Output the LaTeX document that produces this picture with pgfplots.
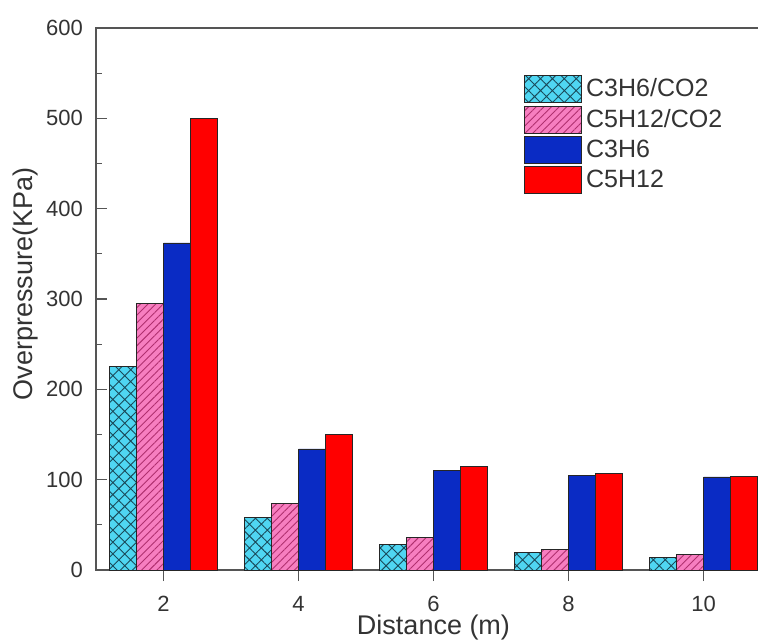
\documentclass[border=0pt]{standalone}
\usepackage{pgfplots}
\pgfplotsset{compat=1.18}
\usetikzlibrary{patterns.meta}
\usepackage{fontspec}
\setmainfont{Liberation Sans}
\definecolor{cyanfill}{HTML}{4FD6F2}
\definecolor{cyanline}{HTML}{1A4A5A}
\definecolor{pinkfill}{HTML}{F77EC0}
\definecolor{pinkline}{HTML}{B0306F}
\definecolor{bluefill}{HTML}{0A2BC4}
\definecolor{redfill}{HTML}{FF0000}
\definecolor{axgray}{HTML}{555555}
\definecolor{txtgray}{HTML}{333333}
\pgfplotsset{
  swatch/.style={legend image code/.code={\draw[##1, bar shift=0pt] (0pt,-6.7pt) rectangle (28.5pt,6.7pt);}}
}
\begin{document}
\begin{tikzpicture}
\useasboundingbox (-48pt,-36.5pt) rectangle (331pt,285pt);
\clip (-48pt,-36.5pt) rectangle (331pt,285pt);
\begin{axis}[
  at={(0,0)}, anchor=south west,
  scale only axis, width=337.5pt, height=271pt,
  xmin=1, xmax=11, ymin=0, ymax=600,
  ybar=0pt, bar width=0.4,
  xtick={2,4,6,8,10},
  ytick={0,100,...,600},
  minor y tick num=1,
  xtick pos=bottom, ytick pos=left,
  xtick align=outside, ytick align=inside,
  major tick length=5.5pt, minor tick length=3pt,
  axis line style={axgray, line width=0.6pt},
  tick style={axgray, line width=0.6pt},
  /pgf/number format/assume math mode=true,
  ticklabel style={font=\fontsize{11}{13}\selectfont, text=txtgray},
  xticklabel style={yshift=-4pt},
  yticklabel style={xshift=-3pt},
  xlabel={Distance (m)},
  ylabel={Overpressure(KPa)},
  label style={font=\fontsize{13.5}{16}\selectfont, text=txtgray},
  xlabel style={at={(axis description cs:0.5,-0.106)}, anchor=center},
  ylabel style={at={(axis description cs:-0.105,0.528)}, anchor=center},
  legend style={at={(rel axis cs:0.634,0.915)}, anchor=north west, draw=none, fill=none,
    font=\fontsize{12.5}{15}\selectfont, text=txtgray, inner sep=0pt, row sep=0.8pt},
  legend cell align=left,
]
\addplot[fill=cyanfill, draw=black!85, line width=0.4pt, bar shift=-0.6,
  postaction={pattern={Hatch[angle=45,distance=4.2pt,line width=0.45pt]}, pattern color=cyanline}, swatch]
  coordinates {(2,225) (4,58) (6,28) (8,19) (10,14)};
\addlegendentry{C3H6/CO2}
\addplot[fill=pinkfill, draw=black!85, line width=0.4pt, bar shift=-0.2,
  postaction={pattern={Lines[angle=45,distance=2.7pt,line width=0.45pt]}, pattern color=pinkline}, swatch]
  coordinates {(2,295) (4,74) (6,36.5) (8,23) (10,17)};
\addlegendentry{C5H12/CO2}
\addplot[fill=bluefill, draw=black!85, line width=0.4pt, bar shift=0.2, swatch]
  coordinates {(2,362) (4,134) (6,110) (8,105) (10,103)};
\addlegendentry{C3H6}
\addplot[fill=redfill, draw=black!85, line width=0.4pt, bar shift=0.6, swatch]
  coordinates {(2,500) (4,150) (6,115) (8,107) (10,104)};
\addlegendentry{C5H12}
\end{axis}
\end{tikzpicture}
\end{document}
